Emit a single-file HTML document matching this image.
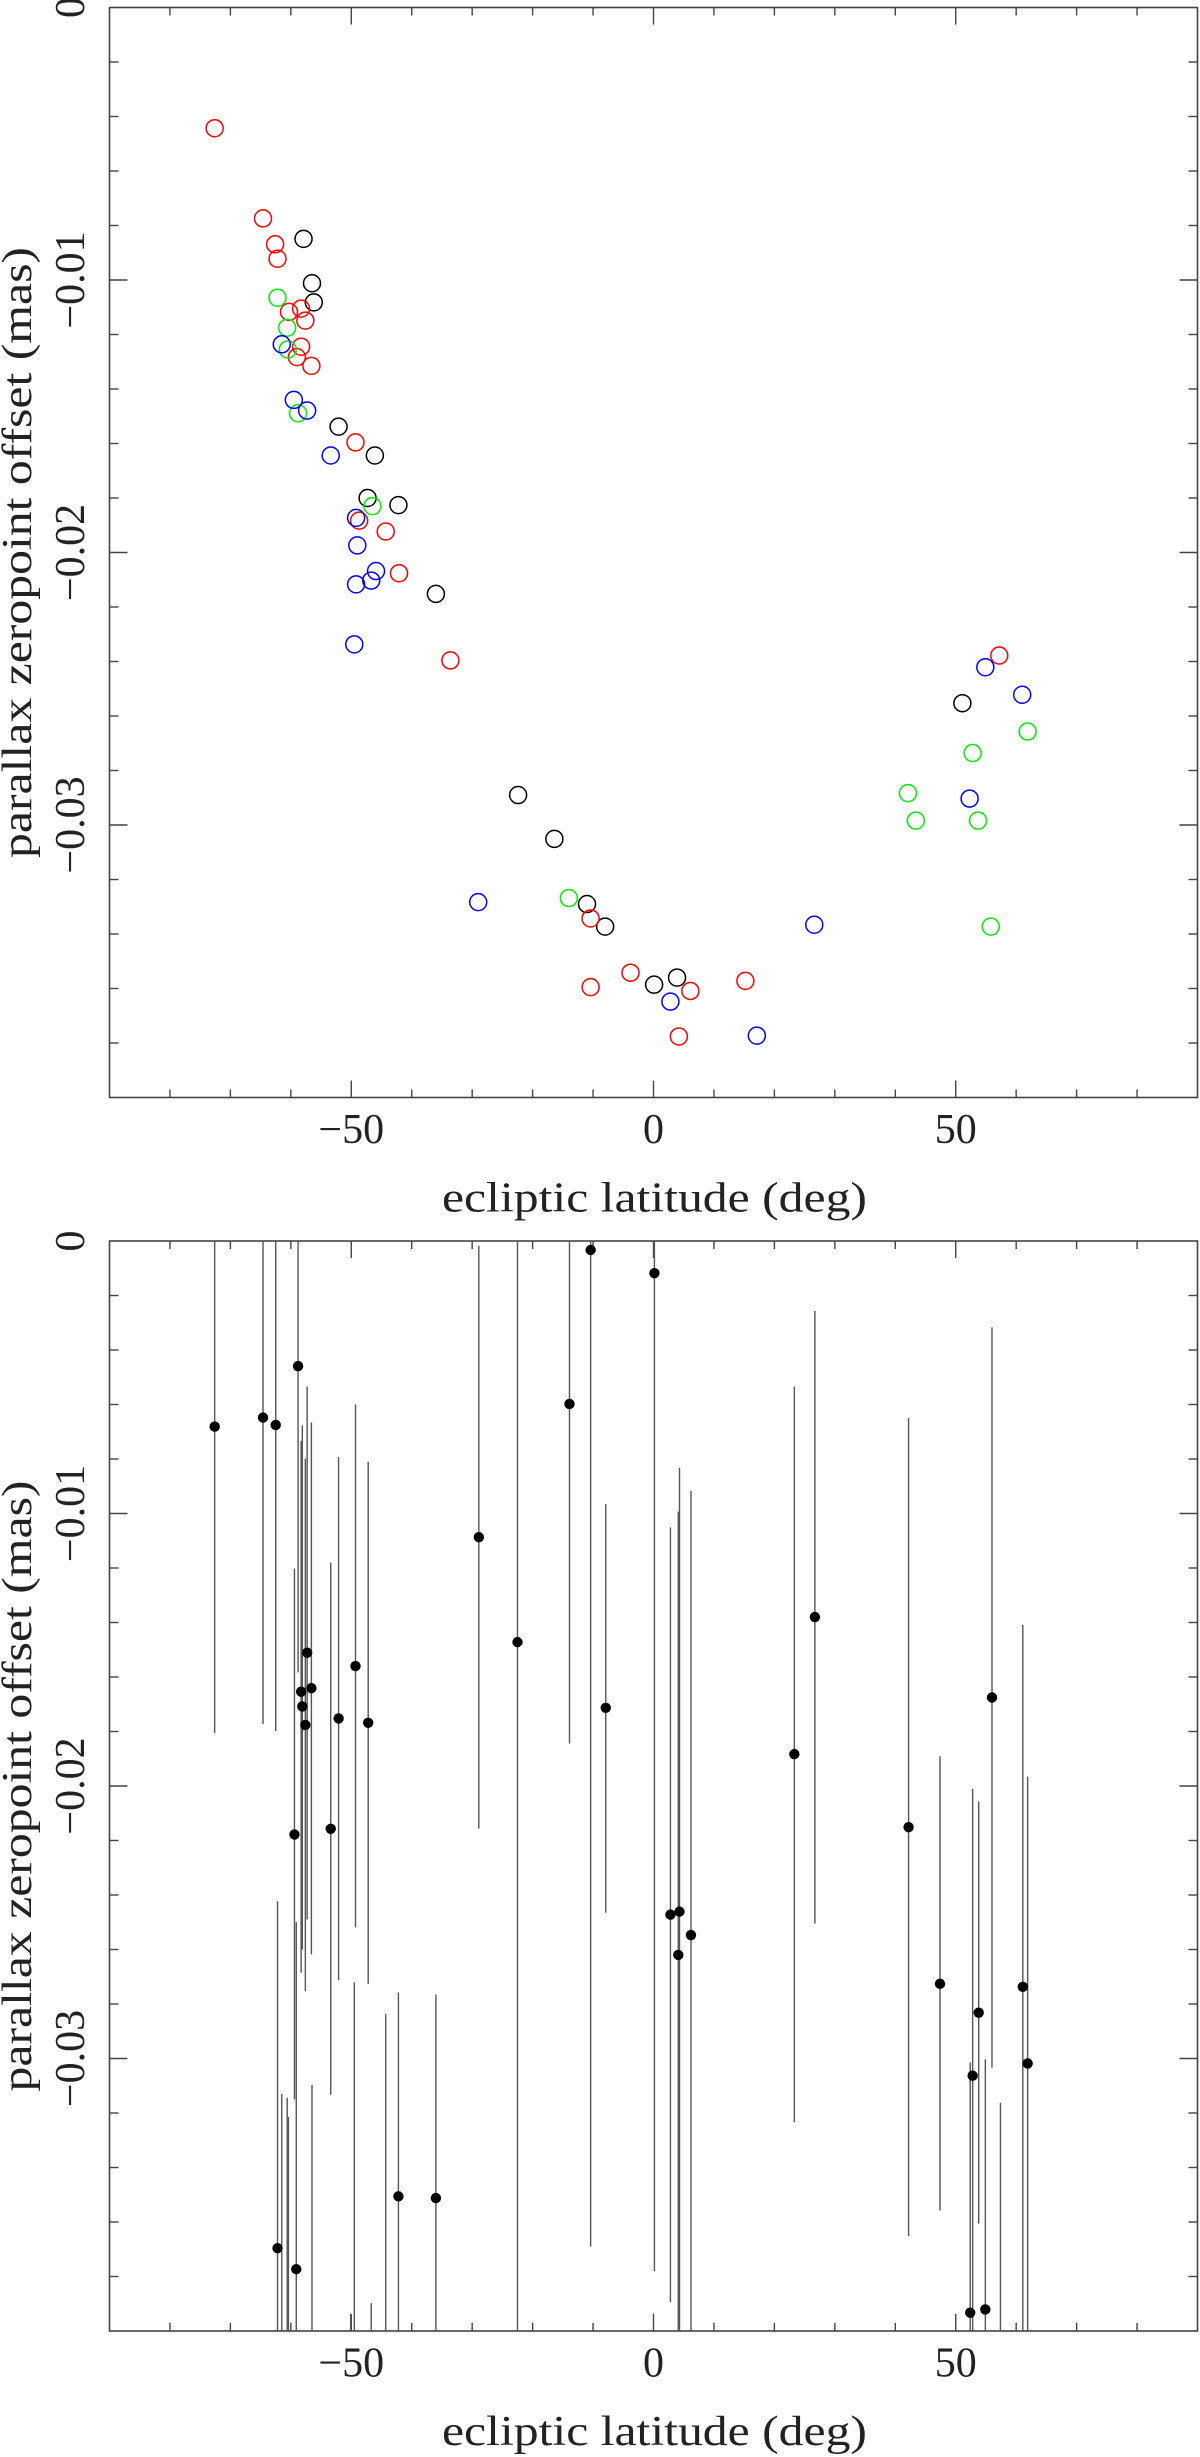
<!DOCTYPE html>
<html><head><meta charset="utf-8"><title>Parallax zeropoint offset vs ecliptic latitude</title>
<style>html,body{margin:0;padding:0;background:#fff;width:1200px;height:2457px;overflow:hidden;}svg{display:block;overflow:hidden;}</style></head>
<body>
<svg id="fig" width="1200" height="2457" viewBox="0 0 1200 2457" xmlns="http://www.w3.org/2000/svg" font-family="'Liberation Serif', serif">
<defs>
<clipPath id="clipTop"><rect x="109.5" y="7.5" width="1088" height="1090"/></clipPath>
<clipPath id="clipBot"><rect x="109.5" y="1241" width="1088" height="1090"/></clipPath>
</defs>
</svg>
<script>
// ---- data (ecliptic latitude in deg, offset in mas) ----
const redLat = [-72.6,-64.6,-62.6,-62.2,-60.3,-58.3,-57.6,-58.3,-59.0,-56.6,-49.3,-48.7,-44.3,-42.1,-33.6,57.2,-10.4,-3.8,-10.4,6.1,15.2,4.2];
const redVal = [-0.00443,-0.00774,-0.00869,-0.00922,-0.01117,-0.01105,-0.01149,-0.01245,-0.01283,-0.01315,-0.01596,-0.01883,-0.01923,-0.02076,-0.02396,-0.02378,-0.03343,-0.03542,-0.03595,-0.03609,-0.03572,-0.03776];
const blackLat = [-57.9,-56.5,-56.2,-52.1,-46.1,-47.3,-42.2,-36.0,51.1,-22.4,-16.4,-11.0,-8.0,3.9,0.1];
const blackVal = [-0.00849,-0.01012,-0.01082,-0.01538,-0.01644,-0.01800,-0.01826,-0.02152,-0.02553,-0.02890,-0.03051,-0.03290,-0.03373,-0.03560,-0.03586];
const greenLat = [-62.2,-60.6,-60.5,-58.8,-46.5,61.9,52.8,42.1,43.4,53.7,-14.0,55.8];
const greenVal = [-0.01065,-0.01175,-0.01255,-0.01489,-0.01830,-0.02657,-0.02736,-0.02883,-0.02984,-0.02984,-0.03268,-0.03373];
const blueLat = [-61.5,-59.5,-57.3,-53.4,-49.2,-49.0,-45.9,-46.7,-49.2,-49.5,54.9,61.0,52.3,-29.0,26.6,2.8,17.1];
const blueVal = [-0.01236,-0.01440,-0.01479,-0.01644,-0.01873,-0.01974,-0.02068,-0.02103,-0.02117,-0.02337,-0.02421,-0.02522,-0.02903,-0.03283,-0.03366,-0.03648,-0.03773];

const errLat = [-72.6,-64.6,-62.5,-58.8,-28.9,-22.5,-13.9,-10.4,0.15,-7.9,-57.3,-49.3,-58.3,-56.6,-58.1,-57.6,-52.1,-47.2,-59.4,-53.4,-62.2,-59.1,-42.2,-36.0,-61.5,-60.6,-60.4,-56.5,-49.5,-44.3,-50.1,-46.7,26.7,23.3,56.0,2.8,4.3,4.1,6.2,42.2,47.4,53.8,52.8,61.1,61.9,52.4,54.9,57.4];
const errVal = [-0.00681,-0.00648,-0.00675,-0.00459,-0.01087,-0.01472,-0.00598,-0.00033,-0.00118,-0.01713,-0.01511,-0.01560,-0.01654,-0.01641,-0.01708,-0.01776,-0.01752,-0.01768,-0.02178,-0.02157,-0.03696,-0.03773,-0.03506,-0.03512,-0.045,-0.045,-0.045,-0.045,-0.045,-0.045,-0.045,-0.045,-0.01380,-0.01883,-0.01675,-0.02472,-0.02461,-0.02620,-0.02547,-0.02151,-0.02726,-0.02832,-0.03063,-0.02737,-0.03018,-0.03933,-0.03921,-0.045];
const errLo = [-0.01805,-0.01772,-0.01798,-0.01583,-0.02156,-0.045,-0.01844,-0.0369,-0.0378,-0.02465,-0.0249,-0.02519,-0.02685,-0.02618,-0.0260,-0.02753,-0.02713,-0.02726,-0.0315,-0.03133,-0.049,-0.05,-0.043,-0.043,-0.055,-0.055,-0.055,-0.055,-0.055,-0.055,-0.055,-0.055,-0.02505,-0.03233,-0.03034,-0.03894,-0.045,-0.045,-0.045,-0.03651,-0.03558,-0.03606,-0.045,-0.045,-0.045,-0.05,-0.05,-0.055];
const errHi = [0.002,0.002,0.002,0.002,-0.00017,0.002,0.002,0.002,0.002,-0.00965,-0.00534,-0.0060,-0.00734,-0.00666,-0.00677,-0.0080,-0.00793,-0.0081,-0.01202,-0.0118,-0.02423,-0.0250,-0.02758,-0.02765,-0.0313,-0.03144,-0.03215,-0.03097,-0.0272,-0.02837,-0.03937,-0.03898,-0.00257,-0.00535,-0.00317,-0.01051,-0.00832,-0.00993,-0.00917,-0.00649,-0.01891,-0.02057,-0.02011,-0.01409,-0.01965,-0.03014,-0.03003,-0.03163];

const xTickVals = [-50, 0, 50];
const xTickLabels = ["\u221250", "0", "50"];
const yTickVals = [0, -0.01, -0.02, -0.03];
const yTickLabels = ["0", "\u22120.01", "\u22120.02", "\u22120.03"];

// ---- layout ----
const NS = "http://www.w3.org/2000/svg";
const svg = document.getElementById('fig');
const X0 = 109.5, X1 = 1197.5, PH = 1090;
const YMIN = -0.04, YMAX = 0;
const xScale = d => X0 + (d + 90) / 180 * (X1 - X0);
const yScale = (v, top) => top + (-v) / 0.04 * PH;
const clampV = v => Math.min(YMAX, Math.max(YMIN, v));

function mk(tag, attrs, parent) {
  const e = document.createElementNS(NS, tag);
  for (const k in attrs) e.setAttribute(k, attrs[k]);
  (parent || svg).appendChild(e);
  return e;
}

function axes(top, prefix) {
  const g = mk('g', {});
  
  
  const frame = mk('rect', {x: X0, y: top, width: X1 - X0, height: PH, fill: 'none', stroke: '#444', 'stroke-width': 1.6}, g);
  
  
  for (let d = -80; d <= 80; d += 10) {
    const x = xScale(d);
    const L = (d % 50 === 0) ? 17 : 8;
    const t1 = mk('line', {x1: x, x2: x, y1: top + PH, y2: top + PH - L, stroke: '#444', 'stroke-width': 1.4}, g);
    
    
    const t2 = mk('line', {x1: x, x2: x, y1: top, y2: top + L, stroke: '#444', 'stroke-width': 1.4}, g);
    
    
  }
  for (let i = 1; i < 20; i++) {
    const v = -0.002 * i;
    const y = yScale(v, top);
    const L = (i % 5 === 0) ? 18 : 9;
    const t1 = mk('line', {x1: X0, x2: X0 + L, y1: y, y2: y, stroke: '#444', 'stroke-width': 1.4}, g);
    
    
    const t2 = mk('line', {x1: X1, x2: X1 - L, y1: y, y2: y, stroke: '#444', 'stroke-width': 1.4}, g);
    
    
  }
  xTickVals.forEach((d, i) => {
    const t = mk('text', {x: xScale(d), y: top + 1135.5, 'font-size': 42, 'text-anchor': 'middle', fill: '#222'}, g);
    
    
    t.textContent = xTickLabels[i];
  });
  yTickVals.forEach((v, i) => {
    const y = yScale(v, top);
    const t = mk('text', {x: 0, y: 0, 'font-size': 42, 'text-anchor': 'middle', fill: '#222', transform: `translate(84,${y}) rotate(-90)`}, g);
    
    
    t.textContent = yTickLabels[i];
  });
  const xt = mk('text', {x: 654.5, y: top + 1204, 'font-size': 42, 'text-anchor': 'middle', fill: '#222', textLength: 425, lengthAdjust: 'spacingAndGlyphs'}, g);
  
  
  xt.textContent = 'ecliptic latitude (deg)';
  const yt = mk('text', {x: 0, y: 0, 'font-size': 42, 'text-anchor': 'middle', fill: '#222', textLength: 611, lengthAdjust: 'spacingAndGlyphs', transform: `translate(31,${top + PH / 2}) rotate(-90)`}, g);
  
  
  yt.textContent = 'parallax zeropoint offset (mas)';
}

axes(7.5, 'top');
axes(1241, 'bottom');

const TOP = 7.5;
const gTop = mk('g', {'clip-path': 'url(#clipTop)'});


function series(lat, val, color, name) {
  const g = mk('g', {}, gTop);
  
  
  lat.forEach((d, i) => {
    const c = mk('circle', {cx: xScale(d), cy: yScale(val[i], TOP), r: 8.5, fill: 'none', stroke: color, 'stroke-width': 1.5}, g);
    
    
  });
}
series(blackLat, blackVal, '#000000', 'black');
series(redLat, redVal, '#ff0000', 'red');
series(greenLat, greenVal, '#00ee00', 'green');
series(blueLat, blueVal, '#0000ff', 'blue');

const BOT = 1241;
const gBot = mk('g', {'clip-path': 'url(#clipBot)'});


errLat.forEach((d, i) => {
  const x = xScale(d);
  const l = mk('line', {x1: x, x2: x, y1: yScale(clampV(errHi[i]), BOT), y2: yScale(clampV(errLo[i]), BOT), stroke: '#555', 'stroke-width': 1.4}, gBot);
  
  
});
errLat.forEach((d, i) => {
  if (errVal[i] < YMIN || errVal[i] > YMAX) return;
  const c = mk('circle', {cx: xScale(d), cy: yScale(errVal[i], BOT), r: 5.2, fill: '#000'}, gBot);
  
  
});
</script>
</body></html>
